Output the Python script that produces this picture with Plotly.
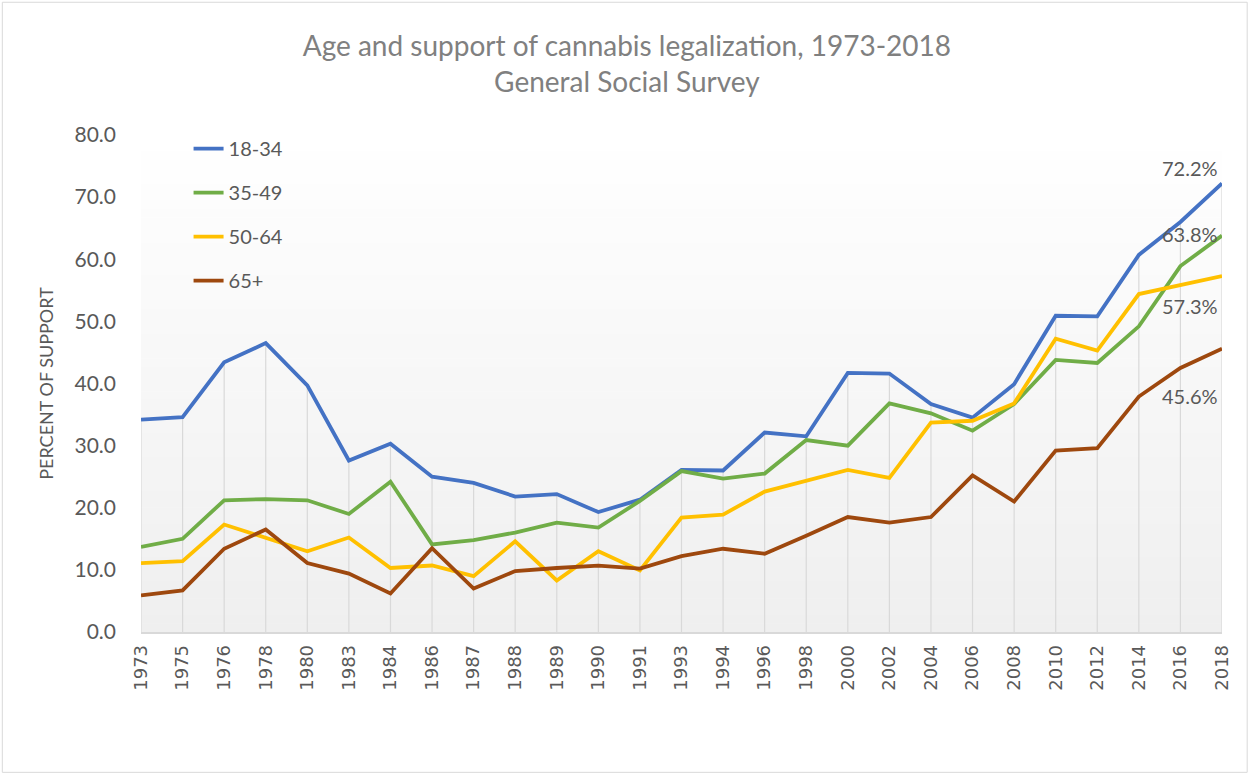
import plotly.graph_objects as go

years = ["1973", "1975", "1976", "1978", "1980", "1983", "1984", "1986", "1987", "1988",
         "1989", "1990", "1991", "1993", "1994", "1996", "1998", "2000", "2002", "2004",
         "2006", "2008", "2010", "2012", "2014", "2016", "2018"]

age_18_34 = [34.2, 34.6, 43.4, 46.5, 39.7, 27.6, 30.3, 25.0, 24.0, 21.8,
             22.2, 19.3, 21.3, 26.1, 26.0, 32.1, 31.5, 41.7, 41.6, 36.7,
             34.5, 39.9, 50.9, 50.8, 60.7, 66.0, 72.2]
age_35_49 = [13.7, 15.0, 21.2, 21.4, 21.2, 19.0, 24.2, 14.1, 14.8, 16.0,
             17.6, 16.8, 21.1, 25.9, 24.7, 25.5, 30.9, 30.0, 36.8, 35.2,
             32.4, 36.7, 43.8, 43.3, 49.2, 58.9, 63.8]
age_50_64 = [11.1, 11.4, 17.3, 15.1, 13.0, 15.2, 10.3, 10.7, 9.0, 14.6,
             8.3, 13.0, 9.9, 18.4, 18.9, 22.6, 24.4, 26.1, 24.8, 33.7,
             34.0, 36.8, 47.2, 45.3, 54.4, 55.9, 57.3]
age_65_plus = [5.9, 6.7, 13.4, 16.5, 11.1, 9.4, 6.2, 13.5, 7.0, 9.8,
               10.3, 10.7, 10.2, 12.2, 13.4, 12.6, 15.5, 18.5, 17.6, 18.5,
               25.2, 21.0, 29.2, 29.6, 37.9, 42.5, 45.6]

series_names = ["18-34", "35-49", "50-64", "65+"]
series_values = [age_18_34, age_35_49, age_50_64, age_65_plus]
series_colors = ["#4472C4", "#70AD47", "#FFC000", "#9E480E"]
label_shifts = [15, 2, -30, -47]

FONT = "Lato"
TXT = "#595959"

fig = go.Figure()

# drop lines (from highest series value down to the axis)
drop_x, drop_y = [], []
for i, yr in enumerate(years):
    top = max(s[i] for s in series_values)
    drop_x += [yr, yr, None]
    drop_y += [top, 0, None]
fig.add_trace(go.Scatter(x=drop_x, y=drop_y, mode="lines",
                         line=dict(color="#d9d9d9", width=1.2),
                         showlegend=False, hoverinfo="skip", connectgaps=False))

for name, vals, col in zip(series_names, series_values, series_colors):
    fig.add_trace(go.Scatter(x=years, y=vals, mode="lines", name=name,
                             legendgroup=name,
                             line=dict(color=col, width=3.8)))

# end-value labels (attached to the last category)
last_idx = len(years) - 1
for vals, sh in zip(series_values, label_shifts):
    fig.add_annotation(x=last_idx, y=vals[-1], xref="x", yref="y",
                       text=f"{vals[-1]:.1f}%",
                       showarrow=False, xanchor="right", yanchor="middle",
                       xshift=-2, yshift=sh,
                       font=dict(family=FONT, size=20, color=TXT))

# plot-area gradient (white at top to light grey at bottom)
N = 60
for k in range(N):
    t = (k + 0.5) / N
    c = int(round(255 - 16 * t))
    fig.add_shape(type="rect", xref="x domain", yref="y domain",
                  x0=0, x1=1, y0=1 - (k + 1) / N, y1=1 - k / N + 0.001,
                  fillcolor=f"rgb({c},{c},{c})", line=dict(width=0), layer="below")

# outer chart border
fig.add_shape(type="rect", xref="paper", yref="paper",
              x0=(2 - 140.7) / 1081.1, x1=(1247 - 140.7) / 1081.1,
              y0=(632.5 - 773) / 497.6, y1=(632.5 - 2) / 497.6,
              line=dict(color="#d9d9d9", width=1), fillcolor="rgba(0,0,0,0)", layer="below")

fig.update_layout(
    width=1250, height=775,
    margin=dict(l=140.7, r=28.2, t=134.9, b=142.5),
    paper_bgcolor="white", plot_bgcolor="rgba(0,0,0,0)",
    title=dict(text="Age and support of cannabis legalization, 1973-2018<br>General Social Survey",
               x=0.5015, xanchor="center", xref="container",
               y=1 - 55.5 / 775, yanchor="middle", yref="container",
               font=dict(family=FONT, size=28, color="#808080")),
    legend=dict(x=0.044, y=1.012, xanchor="left", yanchor="top",
                bgcolor="rgba(0,0,0,0)", borderwidth=0,
                font=dict(family=FONT, size=20, color=TXT),
                tracegroupgap=15, traceorder="grouped"),
    showlegend=True,
)

fig.update_xaxes(type="category", range=[0, len(years) - 1],
                 showgrid=False, zeroline=False,
                 showline=True, linecolor="#d9d9d9", linewidth=1.5,
                 ticks="", tickangle=-90, ticklabelstandoff=4,
                 tickfont=dict(family="DejaVu Sans", size=18, color=TXT))
fig.update_yaxes(range=[0, 80], dtick=10, tick0=0, tickformat=".1f",
                 showgrid=False, zeroline=False, showline=False, ticks="",
                 ticklabelstandoff=24,
                 tickfont=dict(family=FONT, size=21, color=TXT),
                 title=dict(text="PERCENT OF SUPPORT", standoff=16,
                            font=dict(family=FONT, size=18, color=TXT)))

fig.write_html("out.html")
